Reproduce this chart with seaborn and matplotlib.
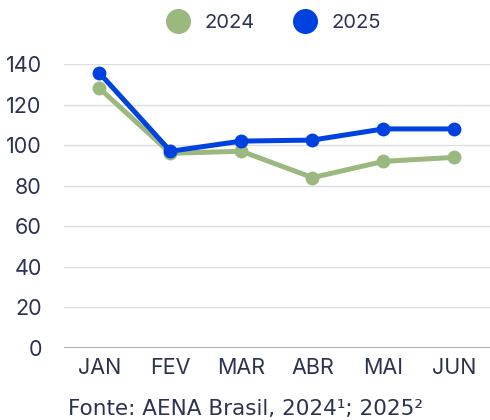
import pandas as pd
import matplotlib
matplotlib.use("Agg")
import matplotlib.pyplot as plt
import seaborn as sns
from matplotlib.lines import Line2D

meses = ["JAN", "FEV", "MAR", "ABR", "MAI", "JUN"]
valores_2024 = [128, 96, 97, 84, 92, 94]
valores_2025 = [135.5, 97, 102, 102.5, 108, 108]
anos = ["2024", "2025"]
cores = {"2024": "#9bb97f", "2025": "#0042e0"}
y_ticks = [0, 20, 40, 60, 80, 100, 120, 140]

df = pd.DataFrame({
    "mes": meses * 2,
    "valor": valores_2024 + valores_2025,
    "ano": ["2024"] * len(meses) + ["2025"] * len(meses),
})
df["pos"] = df["mes"].map({m: i for i, m in enumerate(meses)})

sns.set_style("white")
plt.rcParams["font.family"] = ["Inter", "DejaVu Sans"]
texto = "#2b3350"

fig = plt.figure(figsize=(4.9, 4.2), dpi=100)
ax = fig.add_axes([0.1306, 0.1714, 0.8694, 0.6762])

for y in y_ticks:
    ax.axhline(y, color="#a3a7b4" if y == 0 else "#dcdde2",
               lw=1.3 if y == 0 else 1.0, zorder=0)

sns.lineplot(data=df, x="pos", y="valor", hue="ano", palette=cores,
             hue_order=anos, marker="o", markersize=10, markeredgewidth=0,
             linewidth=3.6, legend=False, ax=ax, clip_on=False)

ax.set_xlim(-0.5, 5.5)
ax.set_ylim(0, 140)
ax.set_xticks(range(len(meses)))
ax.set_xticklabels(meses)
ax.set_yticks(y_ticks)
ax.tick_params(axis="both", length=0, labelsize=15.5, colors=texto)
ax.tick_params(axis="x", pad=7)
ax.tick_params(axis="y", pad=16)
ax.set_xlabel("")
ax.set_ylabel("")
sns.despine(ax=ax, left=True, bottom=True)

handles = [Line2D([], [], marker="o", linestyle="", markersize=17,
                  color=cores[a]) for a in anos]
fig.legend(handles, anos, loc="center", bbox_to_anchor=(0.55, 0.945),
           ncol=2, frameon=False, fontsize=14.5, handletextpad=0.3,
           columnspacing=1.5, labelcolor=texto)

fig.text(0.5, 0.027, "Fonte: AENA Brasil, 2024¹; 2025²", ha="center",
         va="center", fontsize=15.5, color=texto,
         family=["DejaVu Sans"])

fig.savefig("out.png", dpi=100)
